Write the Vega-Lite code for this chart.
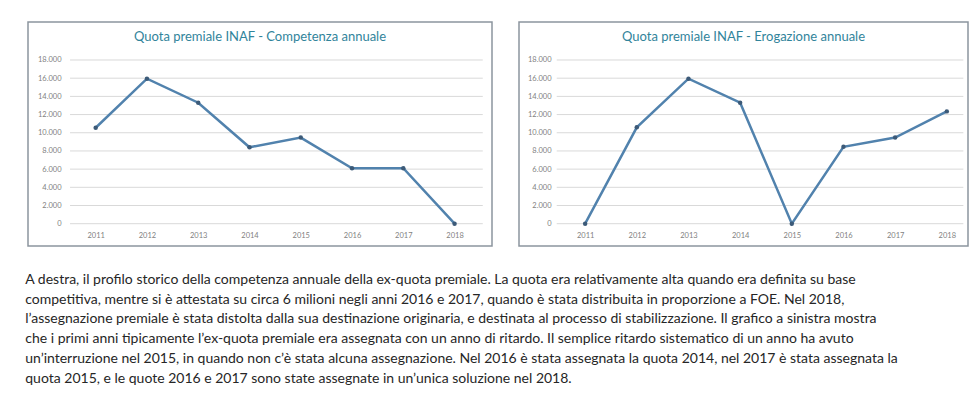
{
  "$schema": "https://vega.github.io/schema/vega-lite/v6.json",
  "background": "white",
  "padding": {"left": 25, "top": 21, "right": 0, "bottom": 0},
  "spacing": 25,
  "title": {
    "text": [
      "A destra, il profilo storico della competenza annuale della ex-quota premiale. La quota era relativamente alta quando era definita su base",
      "competitiva, mentre si è attestata su circa 6 milioni negli anni 2016 e 2017, quando è stata distribuita in proporzione a FOE. Nel 2018,",
      "l’assegnazione premiale è stata distolta dalla sua destinazione originaria, e destinata al processo di stabilizzazione.  Il grafico a sinistra mostra",
      "che i primi anni tipicamente l’ex-quota premiale era assegnata con un anno di ritardo. Il semplice ritardo sistematico di un anno ha avuto",
      "un’interruzione nel 2015, in quando non c’è stata alcuna assegnazione. Nel 2016 è stata assegnata la quota 2014, nel 2017 è stata assegnata la",
      "quota 2015, e le quote 2016 e 2017 sono state assegnate in un’unica soluzione nel 2018."
    ],
    "orient": "bottom",
    "anchor": "start",
    "offset": 26,
    "dx": -2,
    "font": "Lato",
    "fontSize": 14,
    "fontWeight": "normal",
    "color": "#262626",
    "lineHeight": 19.8
  },
  "config": {
    "view": {"stroke": "#8c959e", "strokeWidth": 1.5},
    "axis": {"labelFont": "Lato", "labelColor": "#7f7f7f", "labelFontSize": 7.5, "ticks": false, "tickSize": 0, "domain": false, "grid": false, "title": null}
  },
  "hconcat": [
    {
      "width": 464,
      "height": 224,
      "title": {"text": "Quota premiale INAF - Competenza annuale", "offset": -22, "font": "Lato", "fontSize": 13, "fontWeight": "normal", "color": "#31849b"},
      "encoding": {
        "y": {
          "field": "valore",
          "type": "quantitative",
          "scale": {"domain": [-2452, 22178], "nice": false, "zero": false},
          "axis": {"values": [0, 2000, 4000, 6000, 8000, 10000, 12000, 14000, 16000, 18000], "labelExpr": "replace(format(datum.value, ','), ',', '.')", "labelPadding": -33, "title": null}
        }
      },
      "layer": [
        {
          "data": {"values": [{"valore": 0}, {"valore": 2000}, {"valore": 4000}, {"valore": 6000}, {"valore": 8000}, {"valore": 10000}, {"valore": 12000}, {"valore": 14000}, {"valore": 16000}, {"valore": 18000}]},
          "mark": {"type": "rule", "color": "#d9d9d9", "strokeWidth": 1},
          "encoding": {
            "x": {"datum": 2010.5, "type": "quantitative", "scale": {"domain": [2009.68, 2018.73], "nice": false, "zero": false}, "title": null},
            "x2": {"datum": 2018.55}
          }
        },
        {
          "data": {"values": [
            {"anno": 2011, "valore": 10550},
            {"anno": 2012, "valore": 15950},
            {"anno": 2013, "valore": 13300},
            {"anno": 2014, "valore": 8400},
            {"anno": 2015, "valore": 9470},
            {"anno": 2016, "valore": 6100},
            {"anno": 2017, "valore": 6100},
            {"anno": 2018, "valore": 0}
          ]},
          "mark": {"type": "line", "color": "#5182ad", "strokeWidth": 2.5, "point": {"filled": true, "size": 20, "color": "#3c5a78"}},
          "encoding": {
            "x": {
              "field": "anno",
              "type": "quantitative",
              "scale": {"domain": [2009.68, 2018.73], "nice": false, "zero": false},
              "axis": {"values": [2011, 2012, 2013, 2014, 2015, 2016, 2017, 2018], "format": "d", "labelPadding": -15, "title": null}
            }
          }
        }
      ]
    },
    {
      "width": 449,
      "height": 224,
      "title": {"text": "Quota premiale INAF - Erogazione annuale", "offset": -22, "font": "Lato", "fontSize": 13, "fontWeight": "normal", "color": "#31849b"},
      "encoding": {
        "y": {
          "field": "valore",
          "type": "quantitative",
          "scale": {"domain": [-2452, 22178], "nice": false, "zero": false},
          "axis": {"values": [0, 2000, 4000, 6000, 8000, 10000, 12000, 14000, 16000, 18000], "labelExpr": "replace(format(datum.value, ','), ',', '.')", "labelPadding": -32, "title": null}
        }
      },
      "layer": [
        {
          "data": {"values": [{"valore": 0}, {"valore": 2000}, {"valore": 4000}, {"valore": 6000}, {"valore": 8000}, {"valore": 10000}, {"valore": 12000}, {"valore": 14000}, {"valore": 16000}, {"valore": 18000}]},
          "mark": {"type": "rule", "color": "#d9d9d9", "strokeWidth": 1},
          "encoding": {
            "x": {"datum": 2010.45, "type": "quantitative", "scale": {"domain": [2009.72, 2018.41], "nice": false, "zero": false}, "title": null},
            "x2": {"datum": 2018.32}
          }
        },
        {
          "data": {"values": [
            {"anno": 2011, "valore": 0},
            {"anno": 2012, "valore": 10600},
            {"anno": 2013, "valore": 15950},
            {"anno": 2014, "valore": 13300},
            {"anno": 2015, "valore": 0},
            {"anno": 2016, "valore": 8450},
            {"anno": 2017, "valore": 9470},
            {"anno": 2018, "valore": 12350}
          ]},
          "mark": {"type": "line", "color": "#5182ad", "strokeWidth": 2.5, "point": {"filled": true, "size": 20, "color": "#3c5a78"}},
          "encoding": {
            "x": {
              "field": "anno",
              "type": "quantitative",
              "scale": {"domain": [2009.72, 2018.41], "nice": false, "zero": false},
              "axis": {"values": [2011, 2012, 2013, 2014, 2015, 2016, 2017, 2018], "format": "d", "labelPadding": -15, "title": null}
            }
          }
        }
      ]
    }
  ]
}
